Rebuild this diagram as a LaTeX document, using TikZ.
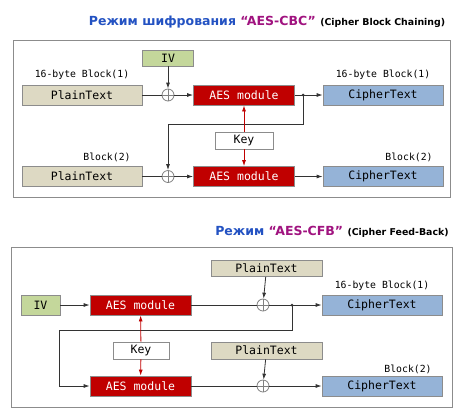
\documentclass[tikz,border=0pt]{standalone}
\usepackage{fontspec}
\setmainfont{DejaVu Sans}
\setmonofont{DejaVu Sans Mono}
\usetikzlibrary{arrows.meta, positioning}
\definecolor{framegray}{HTML}{8C8C8C}
\definecolor{plainbg}{HTML}{DDD9C3}
\definecolor{cipherbg}{HTML}{95B3D7}
\definecolor{ivbg}{HTML}{C4D79B}
\definecolor{aesred}{HTML}{C00000}
\definecolor{titleblue}{HTML}{2352C2}
\definecolor{titlepurple}{HTML}{A0137F}
\definecolor{linegray}{HTML}{333333}

\begin{document}
\begin{tikzpicture}
  [x=1pt, y=-1pt,
   box/.style={draw=framegray, thick, inner sep=0pt, minimum height=20pt,
     font=\ttfamily\fontsize{11.5}{13}\selectfont},
   plain/.style={box, fill=plainbg, minimum width=120pt},
   cipher/.style={box, fill=cipherbg, minimum width=120pt},
   aes/.style={box, fill=aesred, text=white, minimum width=101pt},
   ivbox/.style={box, fill=ivbg, minimum height=16pt},
   keybox/.style={box, fill=white, minimum height=17pt},
   xor/.style={circle, draw=gray, thick, minimum size=12pt, inner sep=0pt,
     path picture={\draw[gray, thick] (path picture bounding box.north) -- (path picture bounding box.south)
       (path picture bounding box.west) -- (path picture bounding box.east);}},
   lbl/.style={font=\ttfamily\fontsize{9.8}{11}\selectfont},
   dot/.style={circle, fill=linegray, inner sep=0pt, minimum size=3pt},
   flow/.style={draw=linegray, thick, -{Latex[length=6pt, width=4pt]}},
   keyflow/.style={draw=aesred, thick, -{Latex[length=6pt, width=4pt]}}]
  \useasboundingbox (0,0) rectangle (462,416);

  % CBC
  \node (t1) at (267,22) {\fontsize{12.5}{15}\selectfont\bfseries\textcolor{titleblue}{Режим шифрования}
    \textcolor{titlepurple}{“AES-CBC”} {\fontsize{9.4}{11}\selectfont(Cipher Block Chaining)}};
  \draw[framegray, thick] (13,40) rectangle (450,197);

  \node (pt1) at (82,95) [plain] {PlainText};
  \node (iv1) at (168,58) [ivbox, minimum width=51pt] {IV};
  \node (x1) at (168,95) [xor] {};
  \node (aes1) at (244,95) [aes] {AES module};
  \node (ct1) at (383,95) [cipher] {CipherText};
  \node (key1) at (244,140.5) [keybox, minimum width=58pt] {Key};
  \node (pt2) at (82,176.5) [plain] {PlainText};
  \node (x2) at (168,176.5) [xor] {};
  \node (aes2) at (244,176.5) [aes] {AES module};
  \node (ct2) at (383,176.5) [cipher] {CipherText};
  \node (d1) at (303,95) [dot] {};
  \coordinate (c1) at (303,124);
  \coordinate (c2) at (168,124);

  \node [lbl] at (82,75) {16-byte Block(1)};
  \node [lbl] at (383,75) {16-byte Block(1)};
  \node [lbl] at (107,157) {Block(2)};
  \node [lbl] at (409,157) {Block(2)};

  \draw [linegray, thick] (pt1) -- (x1);
  \draw [flow] (iv1) -- (x1);
  \draw [flow] (x1) -- (aes1);
  \draw [flow] (aes1) -- (ct1);
  \draw [flow] (d1.center) -- (c1) -- (c2) -- (x2);
  \draw [linegray, thick] (pt2) -- (x2);
  \draw [flow] (x2) -- (aes2);
  \draw [flow] (aes2) -- (ct2);
  \draw [keyflow] (key1) -- (aes1);
  \draw [keyflow] (key1) -- (aes2);

  % CFB
  \node (t2) at (332,232) {\fontsize{12.5}{15}\selectfont\bfseries\textcolor{titleblue}{Режим}
    \textcolor{titlepurple}{“AES-CFB”} {\fontsize{9.4}{11}\selectfont(Cipher Feed-Back)}};
  \draw[framegray, thick] (11,247) rectangle (452,407);

  \node (iv2) at (40.5,305) [ivbox, minimum width=39pt, minimum height=20pt] {IV};
  \node (aes3) at (140.5,305) [aes] {AES module};
  \node (pt3) at (266.5,268.5) [plain, minimum width=111pt, minimum height=16pt] {PlainText};
  \node (x3) at (263,305) [xor] {};
  \node (ct3) at (382,305) [cipher] {CipherText};
  \node (key2) at (141,350.5) [keybox, minimum width=56pt] {Key};
  \node (pt4) at (266.5,350.5) [plain, minimum width=111pt, minimum height=17pt] {PlainText};
  \node (aes4) at (140.5,386) [aes] {AES module};
  \node (x4) at (263,386) [xor] {};
  \node (ct4) at (382,386) [cipher] {CipherText};
  \node (d2) at (292,305) [dot] {};
  \coordinate (c3) at (292,330);
  \coordinate (c4) at (59,330);
  \coordinate (c5) at (59,386);

  \node [lbl] at (382,286) {16-byte Block(1)};
  \node [lbl] at (408,369) {Block(2)};

  \draw [flow] (iv2) -- (aes3);
  \draw [linegray, thick] (aes3) -- (x3);
  \draw [flow] (pt3) -- (x3);
  \draw [flow] (x3) -- (ct3);
  \draw [flow] (d2.center) -- (c3) -- (c4) -- (c5) -- (aes4);
  \draw [linegray, thick] (aes4) -- (x4);
  \draw [flow] (pt4) -- (x4);
  \draw [flow] (x4) -- (ct4);
  \draw [keyflow] (key2) -- (aes3);
  \draw [keyflow] (key2) -- (aes4);
\end{tikzpicture}
\end{document}
